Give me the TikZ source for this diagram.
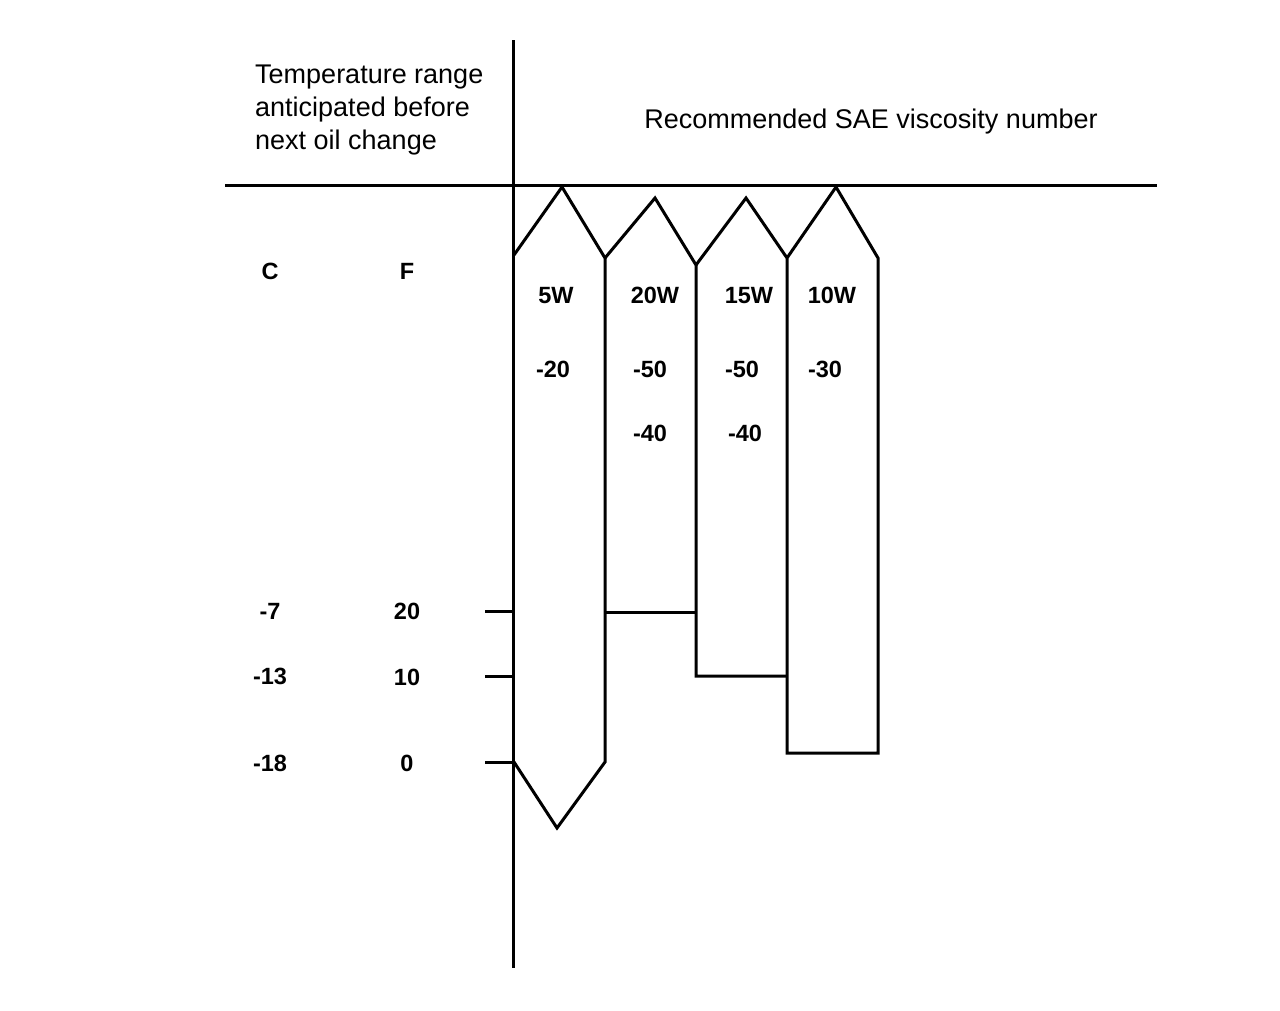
\documentclass[tikz,border=0pt]{standalone}
\usepackage{fontspec}
\setmainfont{Liberation Sans}
\begin{document}
\begin{tikzpicture}[x=1pt,y=-1pt,
  ln/.style={line width=3pt,line join=miter},
  hdr/.style={inner sep=0pt,font=\fontsize{27}{33}\selectfont},
  lbl/.style={inner sep=0pt,anchor=base,yshift=-8.4pt,font=\fontsize{23.5}{26}\selectfont\bfseries}]
\useasboundingbox (0,0) rectangle (1280,1010);
% axes
\draw[ln] (513,40) -- (513,968);
\draw[ln] (225,185) -- (1157,185);
% headers
\node[hdr,anchor=west,align=left] (temp) at (255,110) {Temperature range\\anticipated before\\next oil change};
\node[hdr] (rec) at (871,122) {Recommended SAE viscosity number};
% columns
\draw[ln] (514,255) -- (562,187) -- (605,258) -- (605,762) -- (557,828) -- (514,762);
\draw[ln] (605,258) -- (655,198) -- (696,265) -- (696,676) -- (787,676);
\draw[ln] (605,612) -- (696,612);
\draw[ln] (696,265) -- (746,198) -- (787,258) -- (787,753) -- (878,753) -- (878,258) -- (836,187) -- (787,258);
% ticks
\draw[ln] (485,611) -- (513,611);
\draw[ln] (485,676) -- (513,676);
\draw[ln] (485,762) -- (513,762);
% labels left
\node[lbl] (c) at (270,271) {C};
\node[lbl] (f) at (407,271) {F};
\node[lbl] (c1) at (270,611) {-7};
\node[lbl] (f1) at (407,611) {20};
\node[lbl] (c2) at (270,676) {-13};
\node[lbl] (f2) at (407,677) {10};
\node[lbl] (c3) at (270,763) {-18};
\node[lbl] (f3) at (407,763) {0};
% column labels
\node[lbl] (w5) at (556,295) {5W};
\node[lbl] (w20) at (655,295) {20W};
\node[lbl] (w15) at (749,295) {15W};
\node[lbl] (w10) at (832,295) {10W};
\node[lbl] (a1) at (553,369) {-20};
\node[lbl] (a2) at (650,369) {-50};
\node[lbl] (a3) at (742,369) {-50};
\node[lbl] (a4) at (825,369) {-30};
\node[lbl] (b2) at (650,433) {-40};
\node[lbl] (b3) at (745,433) {-40};
\end{tikzpicture}
\end{document}
